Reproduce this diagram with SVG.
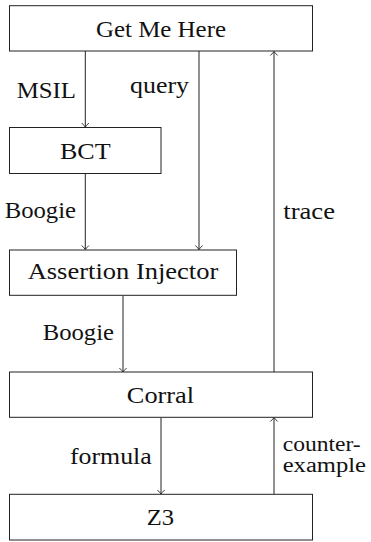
<svg xmlns="http://www.w3.org/2000/svg" width="371" height="542" viewBox="0 0 371 542">
<style>
.box{fill:#fff;stroke:#222;stroke-width:1}
.ln{fill:none;stroke:#222;stroke-width:1}
.t{font-family:'Liberation Serif','Times New Roman',serif;font-size:23px;fill:#111}
.s{font-size:20px}
.c{text-anchor:middle}
.e{text-anchor:end}
</style>
<defs>
<marker id="ah" markerUnits="userSpaceOnUse" markerWidth="12" markerHeight="12" viewBox="-6 -6 12 12" refX="0" refY="0" orient="auto">
<path d="M-4,-3.6 Q-1.2,-0.8 0,0 Q-1.2,0.8 -4,3.6" fill="none" stroke="#222" stroke-width="0.9"/>
</marker>
</defs>
<g id="connectors">
<line class="ln" x1="85.3" y1="51" x2="85.3" y2="127" marker-end="url(#ah)"/>
<line class="ln" x1="199" y1="51" x2="199" y2="249.5" marker-end="url(#ah)"/>
<line class="ln" x1="85.3" y1="173.5" x2="85.3" y2="249.5" marker-end="url(#ah)"/>
<line class="ln" x1="123" y1="295.5" x2="123" y2="372" marker-end="url(#ah)"/>
<line class="ln" x1="274" y1="372" x2="274" y2="51.5" marker-end="url(#ah)"/>
<line class="ln" x1="161" y1="417.5" x2="161" y2="494" marker-end="url(#ah)"/>
<line class="ln" x1="274" y1="494" x2="274" y2="417.5" marker-end="url(#ah)"/>
<text class="t e" x="76" y="98.3" textLength="59.3" lengthAdjust="spacingAndGlyphs">MSIL</text>
<text class="t e" x="189" y="92.7" textLength="59" lengthAdjust="spacingAndGlyphs">query</text>
<text class="t e" x="76" y="218.3" textLength="71.3" lengthAdjust="spacingAndGlyphs">Boogie</text>
<text class="t" x="283.3" y="219.3" textLength="51.7" lengthAdjust="spacingAndGlyphs">trace</text>
<text class="t e" x="114" y="340" textLength="71.3" lengthAdjust="spacingAndGlyphs">Boogie</text>
<text class="t e" x="151.7" y="464" textLength="81.7" lengthAdjust="spacingAndGlyphs">formula</text>
<text class="t s" x="282.7" y="450.7" textLength="78" lengthAdjust="spacingAndGlyphs">counter-</text>
<text class="t s" x="282.7" y="471.7" textLength="83.3" lengthAdjust="spacingAndGlyphs">example</text>
</g>
<g id="getmehere">
<rect class="box" x="9.5" y="5.7" width="303" height="45.3"/>
<text class="t c" x="161" y="36.7" textLength="130" lengthAdjust="spacingAndGlyphs">Get Me Here</text>
</g>
<g id="bct">
<rect class="box" x="9.5" y="127.5" width="151.5" height="46"/>
<text class="t c" x="85.3" y="159.3" textLength="50.7" lengthAdjust="spacingAndGlyphs">BCT</text>
</g>
<g id="injector">
<rect class="box" x="9.5" y="250" width="227" height="45.3"/>
<text class="t c" x="123" y="279" textLength="190.7" lengthAdjust="spacingAndGlyphs">Assertion Injector</text>
</g>
<g id="corral">
<rect class="box" x="9.5" y="372" width="303" height="45.3"/>
<text class="t c" x="160.5" y="402.7" textLength="67.3" lengthAdjust="spacingAndGlyphs">Corral</text>
</g>
<g id="z3">
<rect class="box" x="9.5" y="494.3" width="303" height="45.7"/>
<text class="t c" x="160.5" y="525.3" textLength="27.3" lengthAdjust="spacingAndGlyphs">Z3</text>
</g>
</svg>
